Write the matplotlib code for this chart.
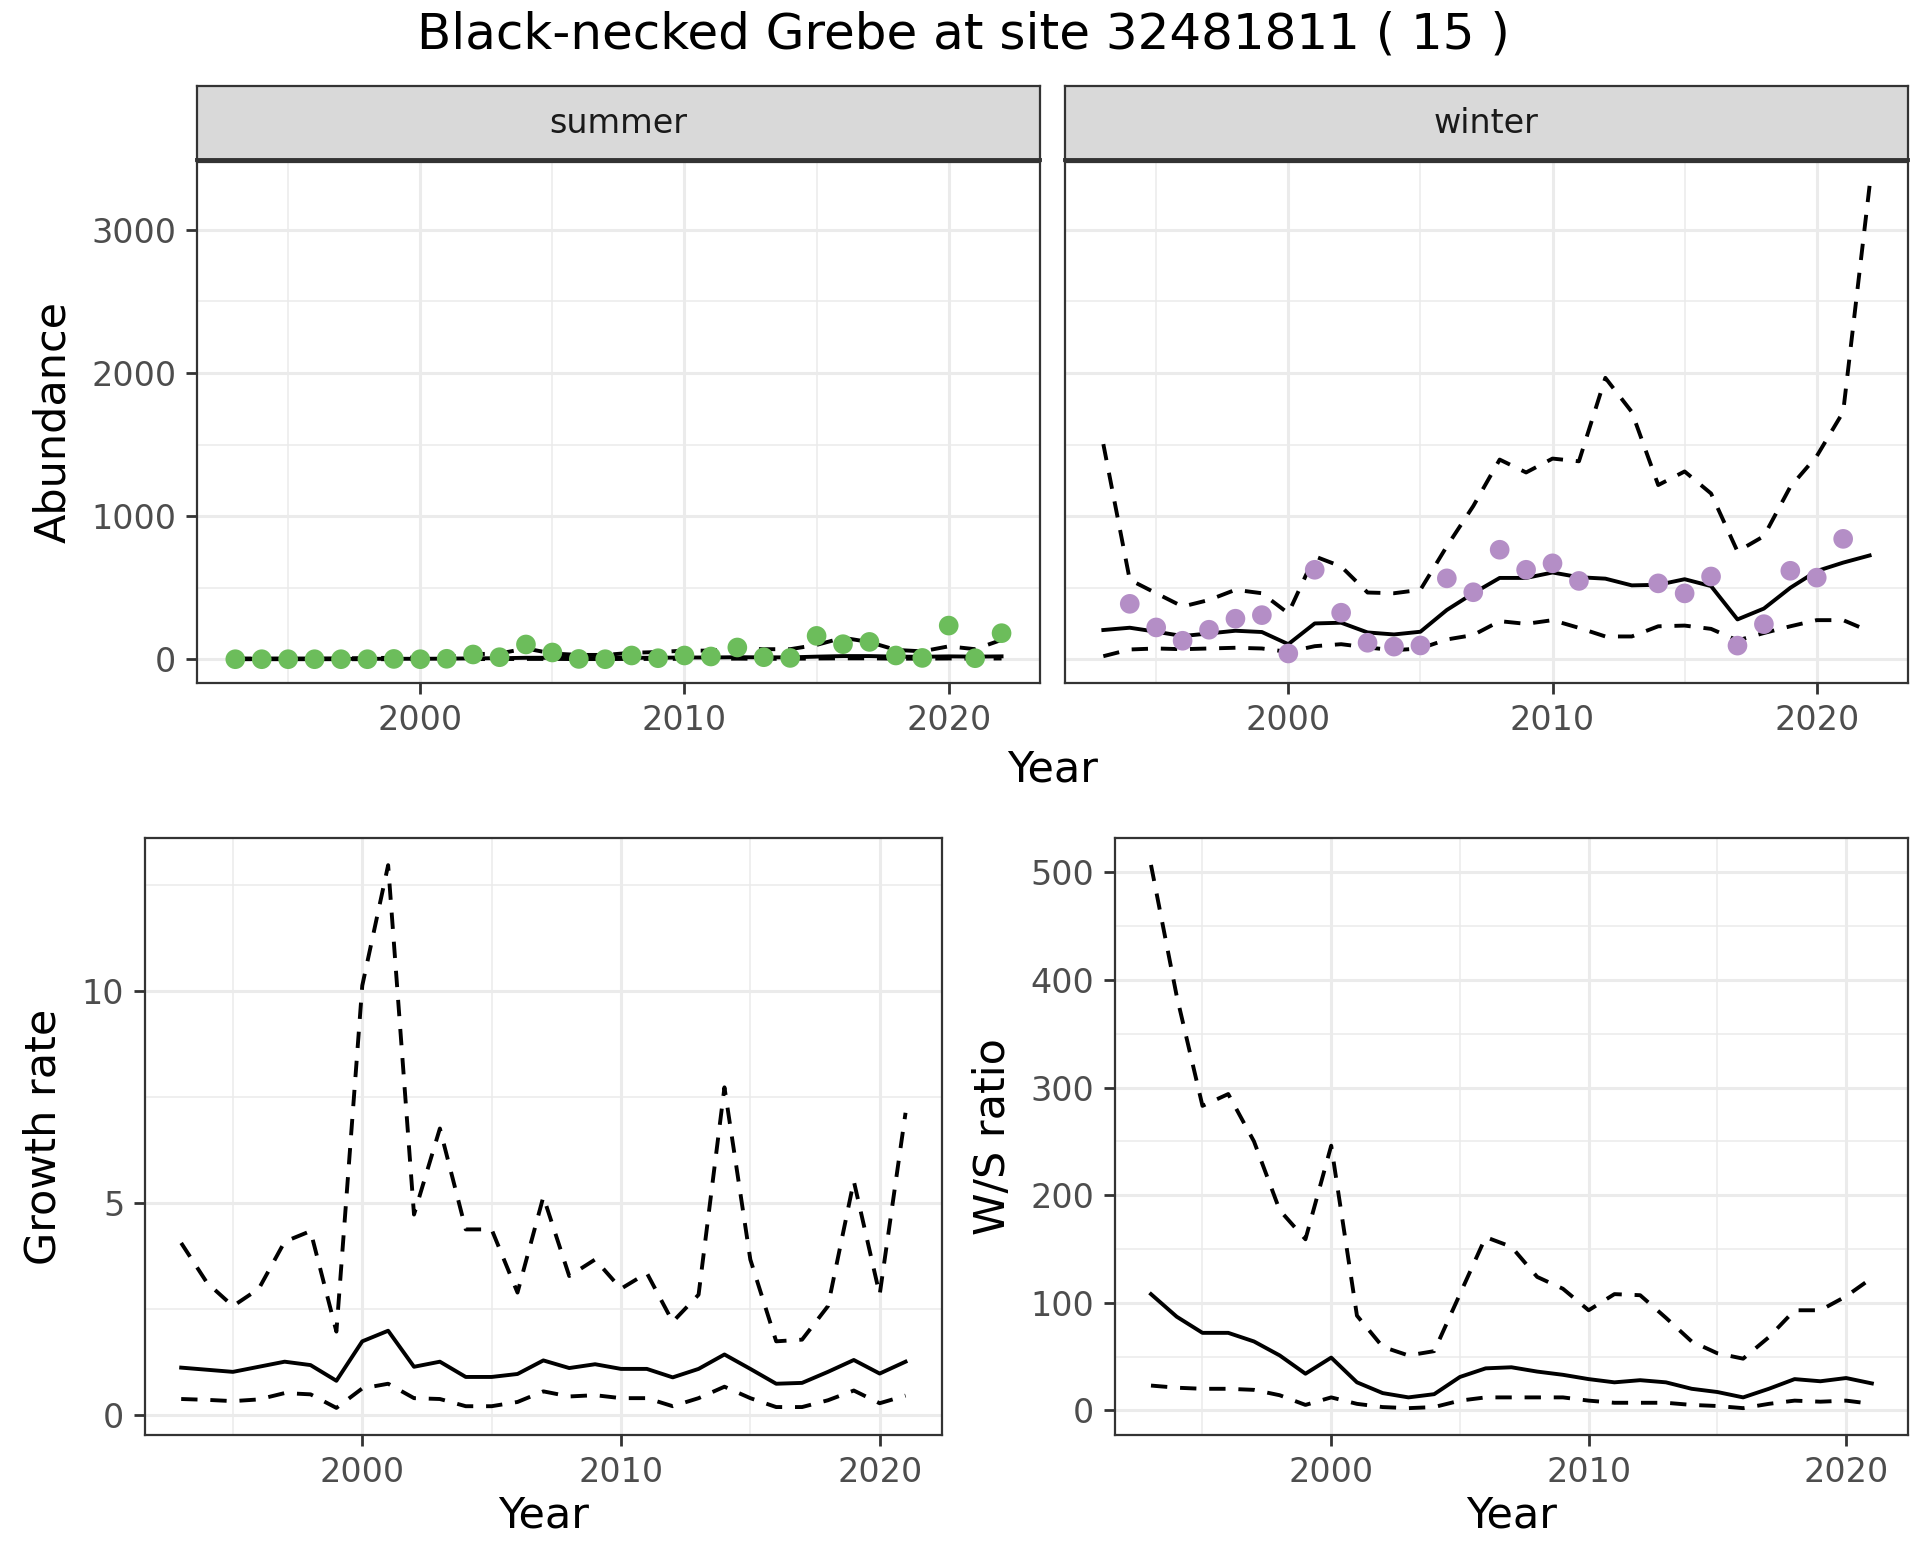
import matplotlib.pyplot as plt
import numpy as np

nan = np.nan

# top panels: abundance per season
years = [1993, 1994, 1995, 1996, 1997, 1998, 1999, 2000, 2001, 2002,
         2003, 2004, 2005, 2006, 2007, 2008, 2009, 2010, 2011, 2012,
         2013, 2014, 2015, 2016, 2017, 2018, 2019, 2020, 2021, 2022]

summer_obs = [0, 0, 0, 0, 0, 0, 2, 0, 3, 33, 14, 103, 47, 2, 0, 26, 7, 26, 19, 82,
              14, 9, 163, 105, 121, 26, 9, 235, 7, 182]
summer_mean = [2, 2, 2, 2, 2, 3, 3, 3, 4, 6, 7, 10, 10, 8, 8, 10, 10, 12, 12, 14,
               13, 13, 18, 22, 22, 18, 17, 20, 18, 20]
summer_upper = [5, 5, 5, 5, 6, 8, 10, 12, 15, 35, 40, 75, 40, 30, 30, 45, 50, 60, 60, 75,
                70, 70, 100, 150, 120, 65, 55, 90, 70, 135]
summer_lower = [0, 0, 0, 0, 0, 0, 0, 0, 0, 1, 1, 2, 2, 1, 1, 2, 2, 3, 3, 4,
                3, 3, 5, 6, 6, 4, 4, 5, 4, 5]

winter_obs = [nan, 387, 222, 129, 206, 283, 308, 40, 625, 325, 115, 88, 96, 565, 468,
              765, 625, 670, 547, nan, nan, 530, 460, 578, 95, 245, 618, 570, 841, nan]
winter_mean = [204, 220, 192, 162, 180, 199, 190, 105, 250, 255, 187, 173, 192, 344, 461,
               568, 568, 606, 573, 563, 516, 520, 559, 511, 278, 354, 499, 616, 675, 725]
winter_upper = [1503, 555, 461, 368, 414, 485, 461, 321, 719, 648, 466, 461, 485, 789, 1070,
                1395, 1305, 1402, 1383, 1966, 1728, 1217, 1312, 1158, 753, 860, 1205, 1419, 1728, 3309]
winter_lower = [21, 68, 75, 70, 75, 80, 75, 51, 91, 105, 82, 63, 75, 138, 169,
                266, 247, 273, 219, 159, 159, 230, 235, 212, 131, 183, 230, 273, 273, 195]

# bottom panels
years2 = years[:-1]
growth_mean = [1.11, 1.06, 1.01, 1.13, 1.25, 1.17, 0.80, 1.73, 1.98, 1.13, 1.25, 0.89, 0.89, 0.96, 1.28,
               1.10, 1.19, 1.08, 1.08, 0.88, 1.08, 1.42, 1.08, 0.73, 0.75, 1.01, 1.29, 0.97, 1.25]
growth_upper = [4.05, 3.11, 2.56, 2.97, 4.08, 4.33, 1.96, 10.12, 12.96, 4.72, 6.75, 4.37, 4.37, 2.88, 5.14,
                3.27, 3.66, 2.97, 3.34, 2.19, 2.83, 7.72, 3.66, 1.73, 1.77, 2.56, 5.51, 2.83, 7.12]
growth_lower = [0.37, 0.35, 0.32, 0.36, 0.51, 0.48, 0.16, 0.62, 0.73, 0.39, 0.37, 0.20, 0.20, 0.30, 0.55,
                0.43, 0.46, 0.39, 0.39, 0.20, 0.39, 0.66, 0.39, 0.18, 0.18, 0.34, 0.57, 0.27, 0.45]

ws_mean = [108, 87, 72, 72, 64, 51, 34, 49, 26, 16, 12, 15, 31, 39, 40,
           36, 33, 29, 26, 28, 26, 20, 17, 12, 20, 29, 27, 30, 25]
ws_upper = [507, 385, 283, 294, 250, 186, 159, 246, 88, 59, 51, 55, 108, 161, 152,
            124, 113, 93, 108, 107, 86, 64, 53, 48, 68, 93, 93, 106, 123]
ws_lower = [23, 21, 20, 20, 19, 14, 5, 12, 6, 3, 2, 3, 9, 12, 12,
            12, 12, 9, 7, 7, 7, 5, 4, 2, 6, 9, 8, 9, 6]

plt.rcParams['font.family'] = 'DejaVu Sans'

TICK = 24
LAB = 31
LW = 2.8
DASH = (0, (4.2, 3.3))


def style(ax, xmaj, xmin, ymaj, ymin, ylabels=True):
    ax.set_facecolor('white')
    ax.set_xticks(xmaj)
    ax.set_xticks(xmin, minor=True)
    ax.set_yticks(ymaj)
    ax.set_yticks(ymin, minor=True)
    ax.grid(True, which='major', color='#EBEBEB', lw=2.2, zorder=0)
    ax.grid(True, which='minor', color='#EBEBEB', lw=1.1, zorder=0)
    ax.set_axisbelow(True)
    for s in ax.spines.values():
        s.set_color('#333333')
        s.set_linewidth(1.6)
    ax.tick_params(which='major', length=8, width=2.0, color='#333333',
                   labelsize=TICK, labelcolor='#4D4D4D', pad=7)
    ax.tick_params(which='minor', length=0)
    if not ylabels:
        ax.tick_params(axis='y', which='major', length=0, labelleft=False)


def band(ax, x, mean, upper, lower):
    ax.plot(x, upper, color='black', lw=LW, ls=DASH, zorder=3)
    ax.plot(x, lower, color='black', lw=LW, ls=DASH, zorder=3)
    ax.plot(x, mean, color='black', lw=LW, zorder=3)


fig = plt.figure(figsize=(19.2, 15.6), dpi=100)

xlim_top = (1991.55, 2023.45)
ylim_top = (-166, 3475)
xmaj = [2000, 2010, 2020]
xmin = [1995, 2005, 2015]

panels = [('summer', 0.1026, summer_obs, summer_mean, summer_upper, summer_lower, '#6CBD5B'),
          ('winter', 0.5547, winter_obs, winter_mean, winter_upper, winter_lower, '#B48EC6')]
for i, (name, left, obs, mean, upper, lower, col) in enumerate(panels):
    ax = fig.add_axes([left, 0.5622, 0.439, 0.334])
    band(ax, years, mean, upper, lower)
    ax.scatter(years, obs, s=200, color=col, edgecolors='none', zorder=4)
    ax.set_xlim(*xlim_top)
    ax.set_ylim(*ylim_top)
    style(ax, xmaj, xmin, [0, 1000, 2000, 3000], [500, 1500, 2500], ylabels=(i == 0))
    if i == 0:
        ax.set_ylabel('Abundance', fontsize=LAB, labelpad=12)
    sax = fig.add_axes([left, 0.8974, 0.439, 0.0474])
    sax.set_facecolor('#D9D9D9')
    sax.set_xticks([])
    sax.set_yticks([])
    for s in sax.spines.values():
        s.set_color('#333333')
        s.set_linewidth(1.6)
    sax.spines['bottom'].set_linewidth(2.8)
    sax.text(0.5, 0.5, name, transform=sax.transAxes, ha='center', va='center',
             fontsize=TICK, color='#1A1A1A')

fig.text(0.548, 0.507, 'Year', ha='center', va='center', fontsize=LAB)
fig.text(0.502, 0.978, 'Black-necked Grebe at site 32481811 ( 15 )',
         ha='center', va='center', fontsize=36)

xlim_bot = (1991.6, 2022.4)

ax = fig.add_axes([0.0755, 0.0801, 0.415, 0.3827])
band(ax, years2, growth_mean, growth_upper, growth_lower)
ax.set_xlim(*xlim_bot)
ax.set_ylim(-0.48, 13.6)
style(ax, xmaj, xmin, [0, 5, 10], [2.5, 7.5, 12.5])
ax.set_xlabel('Year', fontsize=LAB, labelpad=4)
ax.set_ylabel('Growth rate', fontsize=LAB, labelpad=12)

ax = fig.add_axes([0.5807, 0.0801, 0.413, 0.3827])
band(ax, years2, ws_mean, ws_upper, ws_lower)
ax.set_xlim(*xlim_bot)
ax.set_ylim(-23, 532)
style(ax, xmaj, xmin, [0, 100, 200, 300, 400, 500], [50, 150, 250, 350, 450])
ax.set_xlabel('Year', fontsize=LAB, labelpad=4)
ax.set_ylabel('W/S ratio', fontsize=LAB, labelpad=12)

fig.savefig('out.png', dpi=100, facecolor='white')
